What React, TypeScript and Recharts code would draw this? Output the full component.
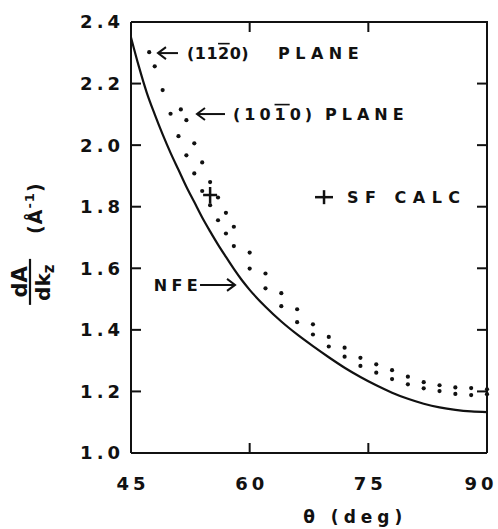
import { ComposedChart, Line, ReferenceDot, Scatter, XAxis, YAxis } from "recharts";

// NFE curve
const nfeDeg = [45, 46, 47, 48, 49, 50, 51, 52, 53, 54, 55, 56, 57, 58, 59, 60, 62, 64, 66, 68, 70, 72, 74, 76, 78, 80, 82, 84, 86, 88, 90];
const nfeVal = [2.35, 2.255, 2.17, 2.1, 2.035, 1.975, 1.92, 1.865, 1.815, 1.765, 1.72, 1.677, 1.637, 1.598, 1.562, 1.53, 1.475, 1.427, 1.385, 1.347, 1.311, 1.277, 1.247, 1.22, 1.196, 1.176, 1.16, 1.148, 1.14, 1.135, 1.133];

// (11-20) plane dots
const plane1120Deg = [47.3, 48, 49, 50, 51, 52, 53, 54, 55, 56, 57, 58, 60, 62, 64, 66, 68, 70, 72, 74, 76, 78, 80, 82, 84, 86, 88, 90];
const plane1120Val = [2.302, 2.256, 2.179, 2.102, 2.029, 1.967, 1.908, 1.851, 1.805, 1.756, 1.713, 1.672, 1.599, 1.535, 1.477, 1.425, 1.385, 1.346, 1.313, 1.283, 1.261, 1.24, 1.223, 1.21, 1.201, 1.192, 1.188, 1.191];

// (10-10) plane dots
const plane1010Deg = [51.3, 52, 53, 54, 55, 56, 57, 58, 60, 62, 64, 66, 68, 70, 72, 74, 76, 78, 80, 82, 84, 86, 88, 90];
const plane1010Val = [2.116, 2.081, 2.006, 1.944, 1.88, 1.83, 1.78, 1.735, 1.651, 1.583, 1.519, 1.467, 1.418, 1.377, 1.342, 1.309, 1.288, 1.269, 1.248, 1.23, 1.22, 1.213, 1.211, 1.207];

// SF calc point
const sfCalcDeg = [55];
const sfCalcVal = [1.838];

// ticks
const xTicks = [45, 60, 75, 90];
const xTickLabels = ["45", "60", "75", "90"];
const xInnerTicks = [60, 75];
const yTicks = [1.0, 1.2, 1.4, 1.6, 1.8, 2.0, 2.2, 2.4];
const yTickLabels = ["1.0", "1.2", "1.4", "1.6", "1.8", "2.0", "2.2", "2.4"];
const yInnerTicks = [1.2, 1.4, 1.6, 1.8, 2.0, 2.2];

const X_MIN = xTicks[0];
const X_MAX = xTicks[xTicks.length - 1];
const Y_MIN = yTicks[0];
const Y_MAX = yTicks[yTicks.length - 1];

// layout
const W = 498;
const H = 529;
const M = { top: 22, right: 11, bottom: 0, left: 0 };
const Y_AXIS_W = 131;
const X_AXIS_H = 76;
const PLOT_W = W - M.left - M.right - Y_AXIS_W;
const PLOT_H = H - M.top - M.bottom - X_AXIS_H;

const nfeData = nfeDeg.map((x, i) => ({ x, y: nfeVal[i] }));
const plane1120Data = plane1120Deg.map((x, i) => ({ x, y: plane1120Val[i] }));
const plane1010Data = plane1010Deg.map((x, i) => ({ x, y: plane1010Val[i] }));
const sfCalcData = sfCalcDeg.map((x, i) => ({ x, y: sfCalcVal[i] }));

const FONT = "'DejaVu Sans', sans-serif";
const INK = "#111";
const textStyle: any = { fontFamily: FONT, fontWeight: 700, fill: INK };

const LeftTick = ({ x, y, payload }: any) => (
  <text x={x} y={y} dy="0.36em" textAnchor="end" fontSize={18} letterSpacing={4} style={textStyle}>
    {yTickLabels[yTicks.indexOf(payload.value)]}
  </text>
);

const BottomTick = ({ x, y, payload }: any) => {
  // last label sits a little left so it stays inside the page
  const shift = payload.value === 90 ? -6 : 2;
  return (
    <text x={x + shift} y={y} dy="0.71em" textAnchor="middle" fontSize={18} letterSpacing={4} style={textStyle}>
      {xTickLabels[xTicks.indexOf(payload.value)]}
    </text>
  );
};

// top + right edge of the box, drawn from its top-right corner
const FrameCorner = ({ cx, cy }: any) => (
  <path d={`M ${cx - PLOT_W} ${cy} H ${cx} V ${cy + PLOT_H}`} fill="none" stroke={INK} strokeWidth={2} />
);

const TopTickMark = ({ cx, cy }: any) => (
  <line x1={cx} x2={cx} y1={cy} y2={cy + 10} stroke={INK} strokeWidth={2} />
);

const RightTickMark = ({ cx, cy }: any) => (
  <line x1={cx - 10} x2={cx} y1={cy} y2={cy} stroke={INK} strokeWidth={2} />
);

const YLabel = ({ viewBox }: any) => {
  const cy = viewBox.y + viewBox.height * 0.603;
  const cy2 = viewBox.y + viewBox.height * 0.432;
  return (
    <g>
      {/* dA / dkz */}
      <g transform={`translate(30, ${cy}) rotate(-90)`}>
        <text x={0} y={-3} textAnchor="middle" fontSize={21} style={textStyle}>dA</text>
        <line x1={-23} x2={23} y1={0} y2={0} stroke={INK} strokeWidth={2.2} />
        <text x={-19} y={20} fontSize={20} style={textStyle}>
          dk<tspan dy={4} fontSize={15}>z</tspan>
        </text>
      </g>
      {/* (A^-1) */}
      <g transform={`translate(42, ${cy2}) rotate(-90)`}>
        <text x={0} y={0} textAnchor="middle" fontSize={19} letterSpacing={1} style={textStyle}>
          (Å<tspan dy={-8} fontSize={13}>-1</tspan><tspan dy={8}>)</tspan>
        </text>
      </g>
    </g>
  );
};

const XLabel = ({ viewBox }: any) => (
  <text x={viewBox.x + viewBox.width * 0.63} y={viewBox.y + 70} textAnchor="middle" fontSize={17} letterSpacing={5} style={textStyle}>
    θ (deg)
  </text>
);

const DotShape = ({ cx, cy }: any) => <circle cx={cx} cy={cy} r={2.1} fill={INK} />;

const PlusShape = ({ cx, cy }: any) => (
  <g stroke={INK} strokeWidth={2.5}>
    <line x1={cx - 7} x2={cx + 7} y1={cy} y2={cy} />
    <line x1={cx} x2={cx} y1={cy - 8} y2={cy + 8} />
  </g>
);

// arrow: tip at (tx, y), tail at (fx, y)
const Arrow = ({ tx, fx, y }: any) => {
  const d = fx > tx ? 1 : -1;
  return (
    <g stroke={INK} strokeWidth={2} fill="none">
      <line x1={fx} x2={tx} y1={y} y2={y} />
      <polyline points={`${tx + d * 8},${y - 6} ${tx},${y} ${tx + d * 8},${y + 6}`} />
    </g>
  );
};

const Note1120 = ({ cx, cy }: any) => (
  <g>
    <Arrow tx={cx} fx={cx + 20} y={cy} />
    <text x={cx + 29} y={cy} dy="0.36em" fontSize={16} letterSpacing={0.5} style={textStyle}>
      (11<tspan style={{ textDecoration: "overline" }}>2</tspan>0)
    </text>
    <text x={cx + 120} y={cy} dy="0.36em" fontSize={16} letterSpacing={5.5} style={textStyle}>PLANE</text>
  </g>
);

const Note1010 = ({ cx, cy }: any) => (
  <g>
    <Arrow tx={cx} fx={cx + 28} y={cy} />
    <text x={cx + 36} y={cy} dy="0.36em" fontSize={16} letterSpacing={4} style={textStyle}>
      (10<tspan style={{ textDecoration: "overline" }}>1</tspan>0)
    </text>
    <text x={cx + 128} y={cy} dy="0.36em" fontSize={16} letterSpacing={5} style={textStyle}>PLANE</text>
  </g>
);

const NoteSF = ({ cx, cy }: any) => (
  <g>
    <g stroke={INK} strokeWidth={2.5}>
      <line x1={cx - 9} x2={cx + 9} y1={cy} y2={cy} />
      <line x1={cx} x2={cx} y1={cy - 7} y2={cy + 7} />
    </g>
    <text x={cx + 23} y={cy} dy="0.36em" fontSize={16} letterSpacing={6.5} style={textStyle}>SF CALC</text>
  </g>
);

const NoteNFE = ({ cx, cy }: any) => (
  <g>
    <Arrow tx={cx} fx={cx - 35} y={cy} />
    <text x={cx - 33} y={cy} dy="0.36em" textAnchor="end" fontSize={16} letterSpacing={4.3} style={textStyle}>NFE</text>
  </g>
);

export default function App() {
  return (
    <div style={{ width: W, height: H, background: "#fff" }}>
      <style>{`body { margin: 0; }`}</style>
      <ComposedChart width={W} height={H} margin={M}>
        {/* bottom axis */}
        <XAxis
          dataKey="x"
          type="number"
          domain={[X_MIN, X_MAX]}
          ticks={xTicks}
          height={X_AXIS_H}
          axisLine={{ stroke: INK, strokeWidth: 2 }}
          tickLine={{ stroke: INK, strokeWidth: 2 }}
          tickSize={-10}
          tickMargin={34}
          tick={<BottomTick />}
          label={<XLabel />}
        />
        {/* left axis */}
        <YAxis
          dataKey="y"
          type="number"
          domain={[Y_MIN, Y_MAX]}
          ticks={yTicks}
          width={Y_AXIS_W}
          axisLine={{ stroke: INK, strokeWidth: 2 }}
          tickLine={{ stroke: INK, strokeWidth: 2 }}
          tickSize={-10}
          tickMargin={17}
          tick={<LeftTick />}
          label={<YLabel />}
        />

        <Line data={nfeData} dataKey="y" type="monotone" stroke={INK} strokeWidth={2.2} dot={false} isAnimationActive={false} />
        <Scatter data={plane1120Data} dataKey="y" shape={<DotShape />} isAnimationActive={false} />
        <Scatter data={plane1010Data} dataKey="y" shape={<DotShape />} isAnimationActive={false} />
        <Scatter data={sfCalcData} dataKey="y" shape={<PlusShape />} isAnimationActive={false} />

        {/* box: top and right edges with inward ticks */}
        <ReferenceDot x={X_MAX} y={Y_MAX} r={1} ifOverflow="visible" shape={(p: any) => <FrameCorner {...p} />} />
        {xInnerTicks.map((v) => (
          <ReferenceDot key={`tt-${v}`} x={v} y={Y_MAX} r={1} ifOverflow="visible" shape={(p: any) => <TopTickMark {...p} />} />
        ))}
        {yInnerTicks.map((v) => (
          <ReferenceDot key={`rt-${v}`} x={X_MAX} y={v} r={1} ifOverflow="visible" shape={(p: any) => <RightTickMark {...p} />} />
        ))}

        {/* annotations */}
        <ReferenceDot x={48.41} y={2.299} r={1} ifOverflow="visible" shape={(p: any) => <Note1120 {...p} />} />
        <ReferenceDot x={53.34} y={2.101} r={1} ifOverflow="visible" shape={(p: any) => <Note1010 {...p} />} />
        <ReferenceDot x={69.4} y={1.831} r={1} ifOverflow="visible" shape={(p: any) => <NoteSF {...p} />} />
        <ReferenceDot x={58.15} y={1.546} r={1} ifOverflow="visible" shape={(p: any) => <NoteNFE {...p} />} />
      </ComposedChart>
    </div>
  );
}
